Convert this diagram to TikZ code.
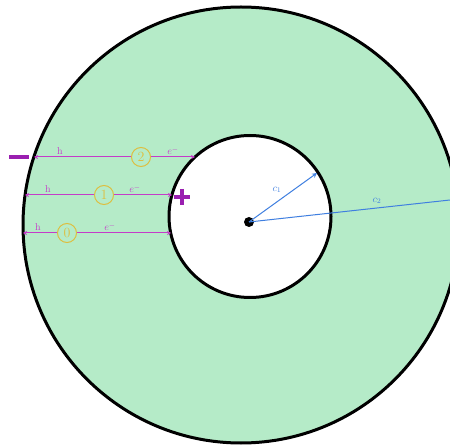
\documentclass[tikz,border=0pt]{standalone}
\usepackage{tikz}
\usetikzlibrary{positioning, arrows.meta, calc}
\definecolor{verde}{HTML}{B5EBC8}
\definecolor{morado}{HTML}{C43CC8}
\definecolor{moradoosc}{HTML}{9A1FB0}
\definecolor{amarillo}{HTML}{DDBE40}
\definecolor{azul}{HTML}{3F7FE0}
\tikzset{
  anillo/.style={draw=black, line width=3pt},
  flecha/.style={draw=morado, line width=1pt, ->, >={Stealth[length=4pt, width=4pt]}},
  etiqueta/.style={text=morado, inner sep=0pt, font=\fontsize{10}{11}\selectfont},
  orden/.style={circle, draw=amarillo, line width=1pt, text=amarillo, fill=verde, minimum size=19pt, inner sep=0pt, font=\fontsize{14}{15}\selectfont},
  radio/.style={draw=azul, line width=1pt},
  cota/.style={text=azul, inner sep=0pt, font=\fontsize{10}{11}\selectfont},
  signo/.style={draw=moradoosc, line width=3.5pt}
}

\begin{document}
\begin{tikzpicture}[x=1pt, y=-1pt]
    \useasboundingbox (0,0) rectangle (450,446);

    % Corona verde entre los dos cilindros (recortada a la derecha)
    \begin{scope}
        \clip (0,0) rectangle (450,446);
        \fill[verde] (241,225) circle (218);
        \draw[anillo] (241,225) circle (218);
        \fill[white] (250,216.5) circle (81);
        \draw[anillo] (250,216.5) circle (81);
    \end{scope}

    % Centro y radios c1, c2
    \coordinate (centro) at (249,222);
    \coordinate (finc1) at (317,173);
    \coordinate (finc2) at (450,200);
    \fill (centro) circle (5);
    \draw[radio, ->, >={Stealth[length=5pt, width=5pt, open]}] (centro) -- (finc1);
    \draw[radio] (centro) -- (finc2);
    \node[cota] (c1) at (277,190) {$c_1$};
    \node[cota] (c2) at (377,201) {$c_2$};

    % Las tres trayectorias h / e- con su numero de orden
    \foreach \y/\xa/\xb/\xh/\xn/\xe/\n in {157/34/195/60/141/173/2, 195/25/172/48/104/135/1, 233/23/171/38/67/110/0} {
        \coordinate (izq\n) at (\xa,\y);
        \coordinate (der\n) at (\xb,\y);
        \node[orden] (num\n) at (\xn,\y) {\n};
        \draw[flecha] (num\n) -- (izq\n);
        \draw[flecha] (num\n) -- (der\n);
        \node[etiqueta] (h\n) at (\xh,\y-6) {h};
        \node[etiqueta] (e\n) at (\xe,\y-6) {$e^{-}$};
    }

    % Signos de los electrodos
    \draw[signo] (9,157) -- (29,157);
    \draw[signo] (174,197) -- (190,197);
    \draw[signo] (182,189) -- (182,205);
\end{tikzpicture}
\end{document}
